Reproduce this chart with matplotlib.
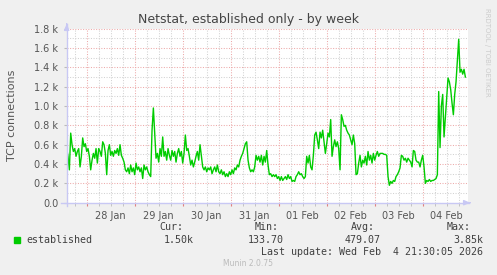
import numpy as np
import pandas as pd
import matplotlib
matplotlib.use("Agg")
import matplotlib.pyplot as plt
import matplotlib.dates as mdates
from matplotlib.patches import Rectangle
from matplotlib.ticker import FuncFormatter, MultipleLocator

# Data (TCP connections, in thousands)
# one sample every 40 minutes starting 27 Jan 14:00
start_time = "2026-01-27 14:00"
sample_step = "40min"
established_k = [
    0.56, 0.48, 0.34, 0.72, 0.60, 0.53, 0.56, 0.48, 0.53, 0.56, 0.37, 0.48,
    0.67, 0.58, 0.61, 0.53, 0.56, 0.48, 0.34, 0.44, 0.51, 0.46, 0.56, 0.41,
    0.56, 0.53, 0.48, 0.63, 0.60, 0.51, 0.29, 0.54, 0.60, 0.49, 0.53, 0.48,
    0.54, 0.51, 0.56, 0.49, 0.60, 0.49, 0.46, 0.42, 0.34, 0.32, 0.36, 0.30,
    0.39, 0.32, 0.36, 0.29, 0.41, 0.34, 0.37, 0.32, 0.36, 0.25, 0.39, 0.34,
    0.37, 0.32, 0.29, 0.27, 0.75, 0.98, 0.72, 0.46, 0.51, 0.42, 0.56, 0.48,
    0.68, 0.48, 0.53, 0.44, 0.56, 0.49, 0.44, 0.54, 0.48, 0.53, 0.42, 0.51,
    0.56, 0.48, 0.53, 0.41, 0.51, 0.70, 0.54, 0.56, 0.48, 0.39, 0.44, 0.37,
    0.42, 0.48, 0.53, 0.44, 0.60, 0.48, 0.37, 0.34, 0.37, 0.32, 0.36, 0.34,
    0.37, 0.30, 0.34, 0.37, 0.32, 0.39, 0.32, 0.30, 0.34, 0.29, 0.32, 0.27,
    0.30, 0.27, 0.32, 0.29, 0.34, 0.30, 0.36, 0.34, 0.39, 0.37, 0.44, 0.48,
    0.51, 0.56, 0.61, 0.63, 0.44, 0.36, 0.32, 0.34, 0.32, 0.37, 0.49, 0.44,
    0.48, 0.42, 0.49, 0.39, 0.48, 0.42, 0.54, 0.39, 0.29, 0.30, 0.27, 0.29,
    0.27, 0.29, 0.25, 0.27, 0.23, 0.27, 0.23, 0.25, 0.27, 0.24, 0.29, 0.25,
    0.27, 0.22, 0.23, 0.22, 0.27, 0.29, 0.32, 0.29, 0.30, 0.27, 0.25, 0.27,
    0.48, 0.41, 0.49, 0.37, 0.34, 0.49, 0.70, 0.73, 0.65, 0.56, 0.73, 0.67,
    0.75, 0.63, 0.51, 0.61, 0.72, 0.68, 0.86, 0.48, 0.58, 0.65, 0.58, 0.63,
    0.56, 0.34, 0.91, 0.86, 0.79, 0.80, 0.75, 0.72, 0.70, 0.65, 0.60, 0.70,
    0.61, 0.29, 0.30, 0.41, 0.49, 0.37, 0.44, 0.41, 0.48, 0.39, 0.53, 0.44,
    0.49, 0.41, 0.51, 0.44, 0.49, 0.53, 0.48, 0.51, 0.51, 0.51, 0.50, 0.50,
    0.49, 0.27, 0.18, 0.22, 0.20, 0.23, 0.22, 0.27, 0.29, 0.32, 0.36, 0.49,
    0.48, 0.44, 0.46, 0.42, 0.46, 0.44, 0.42, 0.37, 0.54, 0.53, 0.44, 0.42,
    0.42, 0.37, 0.44, 0.49, 0.37, 0.20, 0.23, 0.22, 0.24, 0.22, 0.23, 0.23,
    0.24, 0.25, 0.29, 1.15, 0.57, 1.00, 1.12, 0.68, 0.88, 1.09, 1.29, 1.25,
    1.17, 1.03, 0.91, 1.12, 1.25, 1.47, 1.69, 1.35, 1.38, 1.33, 1.38, 1.30,
]

legend_headers = ["Cur:", "Min:", "Avg:", "Max:"]
legend_values = ["1.50k", "133.70", "479.07", "3.85k"]
last_update = "Last update: Wed Feb  4 21:30:05 2026"

times = pd.date_range(start_time, periods=len(established_k), freq=sample_step)

W, H = 497, 275
fig = plt.figure(figsize=(W / 100, H / 100), dpi=100, facecolor="#F0F0F0")

# plot area in pixels
left, right, top, bottom = 66.7, 468.0, 28.7, 202.7
ax = fig.add_axes([left / W, 1 - bottom / H, (right - left) / W, (bottom - top) / H])
ax.set_facecolor("white")

ax.plot(times, established_k, color="#00CC00", lw=1.0, zorder=3)

ax.set_ylim(0, 1.8)
ax.set_xlim(pd.Timestamp("2026-01-27 14:00"), pd.Timestamp("2026-02-04 22:39"))

# grid like rrdtool: gray dotted minor, red dotted major
ax.yaxis.set_major_locator(MultipleLocator(0.2))
ax.yaxis.set_minor_locator(MultipleLocator(0.1))
ax.xaxis.set_major_locator(mdates.DayLocator())
ax.xaxis.set_minor_locator(mdates.HourLocator(byhour=[6, 12, 18]))
ax.grid(which="minor", color="#D2D2D2", lw=0.75, ls=(0, (1, 1.5)))
ax.grid(which="major", color="#EDAAAA", lw=0.75, ls=(0, (1, 1.5)))
ax.set_axisbelow(True)

ax.yaxis.set_major_formatter(FuncFormatter(lambda v, p: "0.0" if v == 0 else "%.1f k" % v))
ax.tick_params(axis="y", which="major", length=2, color="#BBBBBB",
               labelsize=7, labelcolor="#555555", pad=4)
ax.tick_params(axis="y", which="minor", length=0)
ax.tick_params(axis="x", which="major", length=2, color="#E08080", labelbottom=False)
ax.tick_params(axis="x", which="minor", length=2, color="#BBBBBB")

# day labels centered at noon
for d in pd.date_range("2026-01-28", "2026-02-04", freq="D"):
    ax.text(d + pd.Timedelta(hours=12), -0.045, d.strftime("%d %b"),
            transform=ax.get_xaxis_transform(), ha="center", va="top",
            fontsize=7, color="#555555")

for s in ax.spines.values():
    s.set_visible(False)

# axis arrows
axis_col = "#C8C8F4"
fig.add_artist(plt.Line2D([61 / W, 469 / W], [1 - bottom / H] * 2, color=axis_col, lw=1))
fig.add_artist(plt.Line2D([left / W] * 2, [1 - 206 / H, 1 - 24 / H], color=axis_col, lw=1))
ax.annotate("", xy=(473, H - bottom), xytext=(467, H - bottom), xycoords="figure pixels",
            arrowprops=dict(arrowstyle="-|>,head_length=0.35,head_width=0.15", color=axis_col, lw=1))
ax.annotate("", xy=(left, H - 21), xytext=(left, H - 27), xycoords="figure pixels",
            arrowprops=dict(arrowstyle="-|>,head_length=0.35,head_width=0.15", color=axis_col, lw=1))

# texts
fig.text(248.5 / W, 1 - 19 / H, "Netstat, established only - by week",
         ha="center", va="center", fontsize=9, color="#444444")
fig.text(12 / W, 1 - 115.7 / H, "TCP connections", rotation=90,
         ha="center", va="center", fontsize=8, color="#555555")
fig.text(487 / W, 1 - 52 / H, "RRDTOOL / TOBI OETIKER", rotation=270,
         ha="center", va="center", fontsize=5, color="#CCCCCC")

mono = dict(family="DejaVu Sans Mono", fontsize=7.2, color="#404040", va="center")
fig.add_artist(Rectangle((14 / W, 1 - 242.5 / H), 5.5 / W, 5.5 / H,
                         transform=fig.transFigure, color="#00CC00"))
fig.text(26 / W, 1 - 239.7 / H, "established", ha="left", **mono)
header_x = [159, 255, 351, 447]
value_right = [194, 284, 380.5, 483]
for hx, vx, hd, val in zip(header_x, value_right, legend_headers, legend_values):
    fig.text(hx / W, 1 - 227.5 / H, hd, ha="left", **mono)
    fig.text(vx / W, 1 - 239.7 / H, val, ha="right", **mono)
fig.text(483 / W, 1 - 251.7 / H, last_update, ha="right", **mono)
fig.text(248 / W, 1 - 263.7 / H, "Munin 2.0.75", ha="center", va="center",
         fontsize=5.5, color="#BBBBBB")

fig.savefig("out.png", dpi=100, facecolor=fig.get_facecolor())
plt.close(fig)
